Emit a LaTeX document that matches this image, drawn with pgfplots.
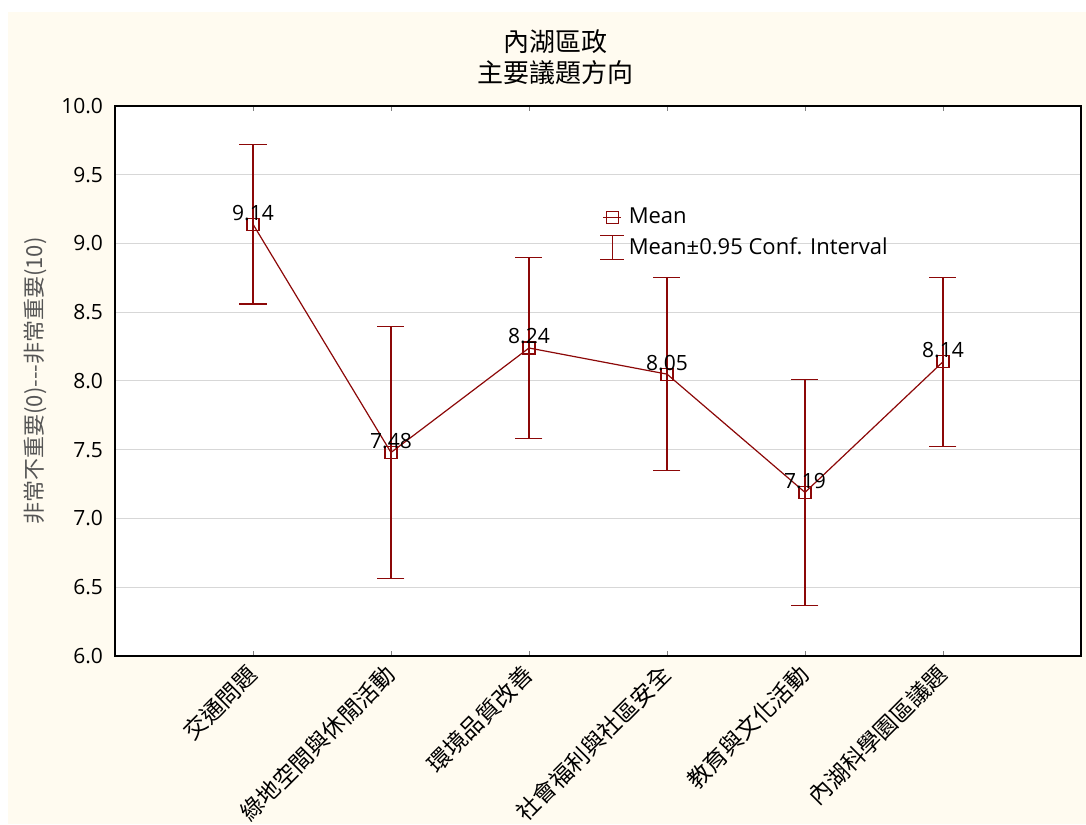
\documentclass[border=0pt]{standalone}
\usepackage{pgfplots}
\pgfplotsset{compat=1.18}
\usepackage{fontspec}
\setmainfont{Open Sans}
\newfontfamily\cjk{Noto Sans CJK TC}
\definecolor{darkred}{RGB}{140,8,8}
\definecolor{cream}{RGB}{255,251,240}
\definecolor{gridgrey}{RGB}{215,215,215}
\definecolor{labgrey}{RGB}{85,85,85}
\begin{document}
\begin{tikzpicture}
\useasboundingbox (0,0) rectangle (543pt,412pt);
\fill[white] (0,0) rectangle (543pt,412pt);
\fill[cream] (4pt,0) rectangle (543pt,406pt);
\node[font=\cjk\fontsize{13}{15}\selectfont] at (277.5pt,391pt) {內湖區政};
\node[font=\cjk\fontsize{13}{15}\selectfont] at (277.5pt,375.5pt) {主要議題方向};
\begin{axis}[
  at={(57.5pt,84pt)}, anchor=south west,
  scale only axis, width=483pt, height=275pt,
  axis background/.style={fill=white},
  xmin=-1, xmax=6, ymin=6, ymax=10,
  xtick={0,1,2,3,4,5},
  xticklabels={交通問題,綠地空間與休閒活動,環境品質改善,社會福利與社區安全,教育與文化活動,內湖科學園區議題},
  xticklabel style={font=\cjk\fontsize{11.5}{13}\selectfont, rotate=45, anchor=east, inner sep=0pt},
  xticklabel shift=7pt,
  ytick={6,6.5,...,10},
  yticklabel style={/pgf/number format/fixed, /pgf/number format/fixed zerofill, /pgf/number format/precision=1, /pgf/number format/assume math mode=true, font=\fontsize{10.5}{12}\selectfont, xshift=-2.5pt},
  xtick pos=both, tick align=inside,
  major tick length=2.5pt,
  ytick style={draw=none},
  ymajorgrids, grid style={gridgrey, line width=0.5pt},
  axis line style={line width=0.8pt, black},
  ylabel={非常不重要(0)---非常重要(10)},
  ylabel style={font=\cjk\fontsize{11}{12}\selectfont, labgrey, at={(axis description cs:-0.0828,0.5)}, anchor=center},
  legend style={at={(rel axis cs:0.495,0.83)}, anchor=north west, draw=none, fill=none, font=\fontsize{11}{13}\selectfont, row sep=1.5pt, cells={anchor=west}},
]
\addlegendimage{darkred, line width=0.6pt, legend image code/.code={\draw[darkred,line width=0.6pt] (0pt,0pt)--(9pt,0pt); \draw[darkred,line width=0.6pt] (1.5pt,-3pt) rectangle (7.5pt,3pt);}}
\addlegendentry{Mean}
\addlegendimage{darkred, legend image code/.code={\draw[darkred,line width=0.6pt] (4.5pt,-6pt)--(4.5pt,6pt) (-1.5pt,-6pt)--(10.5pt,-6pt) (-1.5pt,6pt)--(10.5pt,6pt);}}
\addlegendentry{Mean±0.95 Conf. Interval}
\addplot[darkred, line width=0.6pt, draw=none, mark=none, forget plot,
  error bars/.cd, y dir=both, y explicit, error mark=|, error mark options={darkred, line width=0.6pt, mark size=6.75pt}, error bar style={darkred, line width=0.6pt}]
  table[x=x, y=y, y error=e] {
x y e
0 9.14 0.58
1 7.48 0.915
2 8.24 0.66
3 8.05 0.70
4 7.19 0.82
5 8.14 0.615
};
\addplot[darkred, line width=0.6pt, mark=square, mark size=3pt, forget plot,
  nodes near coords={\pgfmathprintnumber[fixed, fixed zerofill, precision=2, assume math mode=true]{\pgfplotspointmeta}},
  point meta=y,
  every node near coord/.append style={black, anchor=base, yshift=2pt, font=\fontsize{10.5}{12}\selectfont}]
  table[x=x, y=y] {
x y
0 9.14
1 7.48
2 8.24
3 8.05
4 7.19
5 8.14
};
\end{axis}
\end{tikzpicture}
\end{document}
